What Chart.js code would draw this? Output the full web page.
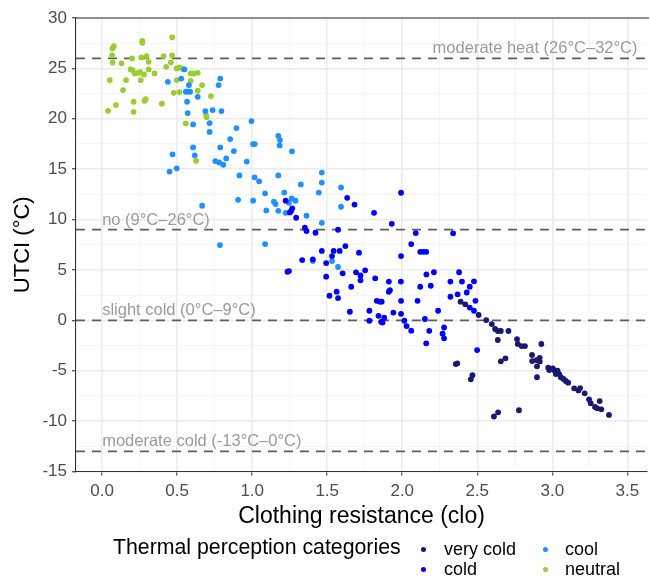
<!DOCTYPE html>
<html><head><meta charset="utf-8">
<script src="https://cdn.jsdelivr.net/npm/chart.js@4/dist/chart.umd.min.js"></script>
<style>
html,body{margin:0;padding:0;background:#fff;overflow:hidden}
#wrap{position:relative;width:650px;height:577px;font-family:"Liberation Sans",Arial,sans-serif}
#c{position:absolute;left:0;top:0}
.lg{position:absolute;white-space:nowrap;line-height:1}
.dot{position:absolute;width:5px;height:5px;border-radius:50%}
</style></head><body>
<div id="wrap"><canvas id="c" width="650" height="577"></canvas><div id="legend"></div></div>
<script>
const categories = ['very cold', 'cold', 'cool', 'neutral'];
const categoryColors = ['#191970', '#0000FF', '#1E90FF', '#9ACD32'];
const legendTitle = 'Thermal perception categories';

const veryColdClo = [2.389,2.420,2.509,2.560,2.597,2.619,2.637,2.657,2.708,2.637,2.765,2.770,2.796,2.818,2.927,2.657,2.688,2.865,2.866,2.895,2.916,2.917,2.898,2.898,2.611,2.639,2.778,2.357,2.367,2.457,2.468,2.973,2.980,3.004,3.017,3.035,3.046,3.024,3.057,3.075,3.090,3.106,3.146,3.174,3.186,3.216,3.245,3.256,3.285,3.300,3.316,3.327,3.378];
const veryColdUtci = [1.85,1.59,0.53,0.03,-0.37,-0.86,-1.06,-1.06,-1.06,-1.95,-1.86,-2.35,-2.55,-2.55,-2.35,-4.07,-3.77,-3.44,-4.04,-3.94,-3.72,-4.09,-4.56,-5.65,-9.54,-9.13,-8.92,-4.34,-4.27,-5.85,-5.45,-4.70,-4.93,-4.76,-5.00,-5.00,-5.33,-5.33,-5.65,-5.82,-6.02,-6.19,-6.75,-6.96,-6.72,-7.24,-7.84,-8.23,-8.60,-8.73,-8.01,-8.83,-9.39];

const coldClo = [1.223,1.267,1.260,1.251,1.293,1.351,1.362,1.422,1.572,1.633,1.682,1.812,1.992,1.930,2.090,2.339,2.060,2.120,2.140,2.160,1.992,1.464,1.543,1.583,1.621,1.712,1.532,1.333,1.404,1.493,1.235,1.245,1.493,1.603,1.692,1.753,1.722,1.722,1.820,1.660,1.911,1.991,2.161,2.211,2.120,2.190,1.515,1.563,1.572,1.918,1.910,1.651,1.781,1.781,1.842,1.869,1.880,1.859,1.830,1.851,1.863,1.941,1.992,1.992,2.014,2.029,2.060,2.102,2.151,2.180,2.160,2.239,2.269,2.279,2.279,2.379,2.321,2.398,2.478,2.450,2.430,2.369,2.321,2.488,2.499,2.478,2.450];
const coldUtci = [11.87,11.11,10.87,10.71,10.18,9.19,8.86,8.69,8.99,12.16,11.49,10.67,12.66,9.58,8.66,8.63,7.57,6.80,6.80,6.80,6.38,6.89,6.89,6.89,7.37,6.71,6.38,5.98,6.05,5.68,4.82,4.89,4.33,4.66,4.76,4.96,4.46,3.97,4.17,3.33,3.85,3.85,4.56,4.77,3.33,3.43,2.44,2.84,2.21,2.99,2.83,0.85,0.95,-0.04,0.45,-0.22,0.26,-0.15,1.94,1.85,1.85,0.77,1.94,0.65,-0.04,-0.57,-1.03,1.94,0.13,-1.04,-2.28,0.95,-1.33,-0.71,-1.79,4.77,3.85,3.85,3.87,3.33,2.76,2.58,2.34,1.94,-2.95,0.95,1.27];

const coolClo = [0.438,0.527,0.548,0.578,0.558,0.573,0.586,0.637,0.566,0.570,0.606,0.688,0.736,0.795,0.716,0.716,0.787,0.776,0.995,0.895,0.853,1.006,1.017,1.174,1.185,1.183,1.265,0.606,0.787,0.878,0.469,0.617,0.754,0.780,0.807,0.827,0.964,0.449,0.497,0.915,1.016,1.174,1.046,1.086,0.906,1.006,0.666,1.145,1.156,1.214,1.094,1.174,1.324,1.464,1.464,1.444,1.263,1.245,1.289,1.223,1.362,1.464,0.785,1.086,1.592,1.592,1.404,1.532,1.572];
const coolUtci = [23.67,23.99,24.90,23.34,22.68,22.68,22.68,22.18,21.69,20.57,19.44,20.76,20.86,20.76,19.57,18.70,23.99,23.34,19.77,19.08,17.99,17.49,17.49,18.31,17.89,17.36,16.77,17.16,17.16,16.80,16.47,16.37,15.80,15.67,15.44,16.07,15.75,14.76,15.08,14.38,14.19,14.38,13.79,12.60,11.96,11.87,11.37,11.77,11.54,12.68,10.91,10.87,13.49,14.66,13.67,12.68,12.10,11.67,11.87,10.67,10.38,9.68,7.47,7.57,13.19,11.27,5.88,5.88,5.29];

const neutralClo = [0.467,0.268,0.268,0.078,0.069,0.066,0.069,0.129,0.199,0.261,0.296,0.310,0.409,0.467,0.458,0.427,0.190,0.202,0.217,0.239,0.252,0.279,0.310,0.349,0.257,0.051,0.159,0.497,0.515,0.537,0.497,0.590,0.610,0.637,0.590,0.666,0.139,0.477,0.515,0.637,0.725,0.283,0.290,0.210,0.091,0.398,0.040,0.210,0.692,0.696,0.557,0.626];
const neutralUtci = [28.08,27.74,27.54,27.21,26.98,26.32,25.58,25.50,25.99,26.09,26.22,25.65,26.22,26.29,25.60,25.16,24.90,24.83,24.50,24.56,24.63,24.40,24.90,24.50,23.84,23.84,23.84,25.00,25.10,24.93,23.84,24.50,24.50,24.56,23.77,23.34,22.85,22.58,22.65,22.78,22.25,21.79,21.95,21.69,21.36,21.49,20.79,20.69,20.37,20.14,19.54,15.83];

const xTickValues = [0, 0.5, 1, 1.5, 2, 2.5, 3, 3.5];
const yTickValues = [-15, -10, -5, 0, 5, 10, 15, 20, 25, 30];
const zoneLines = [26, 9, 0, -13];
const zoneLabels = ['moderate heat (26°C–32°C)', 'no (9°C–26°C)', 'slight cold (0°C–9°C)', 'moderate cold (-13°C–0°C)'];
const xTitle = 'Clothing resistance (clo)';
const yTitle = 'UTCI (°C)';

const FONT = '"Liberation Sans", Arial, sans-serif';

function pts(xs, ys) { return xs.map((x, i) => ({ x: x, y: ys[i] })); }
function withMinor(majors) {
  const out = [];
  for (let i = 0; i < majors.length; i++) {
    out.push(majors[i]);
    if (i < majors.length - 1) out.push((majors[i] + majors[i + 1]) / 2);
  }
  return out;
}
function isMajor(v, majors) { return majors.some(m => Math.abs(m - v) < 1e-9); }

const seriesX = [veryColdClo, coldClo, coolClo, neutralClo];
const seriesY = [veryColdUtci, coldUtci, coolUtci, neutralUtci];
const datasets = categories.map((name, i) => ({
  label: name,
  data: pts(seriesX[i], seriesY[i]),
  backgroundColor: categoryColors[i],
  borderWidth: 0,
  pointRadius: 2.9,
  pointHoverRadius: 2.9,
  pointBorderWidth: 0,
  order: i
}));

const framePlugin = {
  id: 'frame',
  beforeDatasetsDraw(chart) {
    const { ctx, chartArea: a, scales: { x, y } } = chart;
    ctx.save();
    ctx.strokeStyle = '#5E5E5E';
    ctx.lineWidth = 1.8;
    ctx.setLineDash([9, 7]);
    zoneLines.forEach(v => {
      const py = y.getPixelForValue(v);
      ctx.beginPath();
      ctx.moveTo(a.left, py);
      ctx.lineTo(a.right, py);
      ctx.stroke();
    });
    ctx.setLineDash([]);
    ctx.font = '16.5px ' + FONT;
    ctx.fillStyle = '#9A9A9A';
    ctx.textBaseline = 'middle';
    zoneLines.forEach((v, i) => {
      const py = y.getPixelForValue(v) - 9.5;
      if (i === 0) {
        ctx.textAlign = 'right';
        ctx.fillText(zoneLabels[i], x.getPixelForValue(3.568), py);
      } else {
        ctx.textAlign = 'left';
        ctx.fillText(zoneLabels[i], x.getPixelForValue(0), py);
      }
    });
    ctx.restore();
  },
  afterDraw(chart) {
    const { ctx, chartArea: a } = chart;
    ctx.save();
    ctx.strokeStyle = '#333333';
    ctx.lineWidth = 1.1;
    ctx.beginPath();
    ctx.moveTo(a.left, a.top);
    ctx.lineTo(a.right + 2, a.top);
    ctx.stroke();
    ctx.restore();
  }
};

function axisGrid(majors) {
  return {
    color: c => (c.tick && isMajor(c.tick.value, majors)) ? '#EBEBEB' : '#F3F3F3',
    lineWidth: c => (c.tick && isMajor(c.tick.value, majors)) ? 1.5 : 0.8,
    tickColor: c => (c.tick && isMajor(c.tick.value, majors)) ? '#333333' : 'rgba(0,0,0,0)',
    tickLength: 4,
    tickWidth: 1.1,
    drawTicks: true
  };
}

new Chart(document.getElementById('c'), {
  type: 'scatter',
  data: { datasets: datasets },
  plugins: [framePlugin],
  options: {
    responsive: false,
    animation: false,
    events: [],
    layout: { padding: { left: 0, right: 0, top: 18, bottom: 43.5 } },
    plugins: { legend: { display: false }, tooltip: { enabled: false } },
    scales: {
      x: {
        type: 'linear',
        min: -0.1744,
        max: 3.632,
        afterBuildTicks: s => { s.ticks = withMinor(xTickValues).map(v => ({ value: v })); },
        afterFit: s => { s.height = 62; },
        ticks: {
          autoSkip: false,
          maxRotation: 0,
          padding: 6,
          color: '#4D4D4D',
          font: { family: FONT, size: 17 },
          callback: v => isMajor(v, xTickValues) ? Number(v).toFixed(1) : ''
        },
        grid: axisGrid(xTickValues),
        border: { display: true, color: '#333333', width: 1.1 },
        title: { display: true, text: xTitle, color: '#000000', font: { family: FONT, size: 23 }, padding: { top: 0, bottom: 3 } }
      },
      y: {
        type: 'linear',
        min: -15,
        max: 30,
        afterBuildTicks: s => { s.ticks = withMinor(yTickValues).map(v => ({ value: v })); },
        afterFit: s => { s.width = 76; },
        ticks: {
          autoSkip: false,
          padding: 5,
          color: '#4D4D4D',
          font: { family: FONT, size: 17 },
          callback: v => isMajor(v, yTickValues) ? String(v) : ''
        },
        grid: axisGrid(yTickValues),
        border: { display: true, color: '#333333', width: 1.1 },
        title: { display: true, text: yTitle, color: '#000000', font: { family: FONT, size: 22 }, padding: { top: 10, bottom: 0 } }
      }
    }
  }
});

const lg = document.getElementById('legend');
function addText(txt, left, cy, size) {
  const d = document.createElement('div');
  d.className = 'lg';
  d.textContent = txt;
  d.style.left = left + 'px';
  d.style.top = (cy - size / 2) + 'px';
  d.style.fontSize = size + 'px';
  d.style.height = size + 'px';
  lg.appendChild(d);
}
function addDot(color, cx, cy) {
  const d = document.createElement('div');
  d.className = 'dot';
  d.style.background = color;
  d.style.left = (cx - 2.5) + 'px';
  d.style.top = (cy - 2.5) + 'px';
  lg.appendChild(d);
}
addText(legendTitle, 113, 548, 21.3);
const legendPos = [[423, 444, 549], [423, 444, 569], [545, 565, 549], [545, 565, 569]];
categories.forEach((name, i) => {
  const p = legendPos[i];
  addDot(categoryColors[i], p[0], p[2]);
  addText(name, p[1], p[2], 18);
});
</script>
</body></html>
